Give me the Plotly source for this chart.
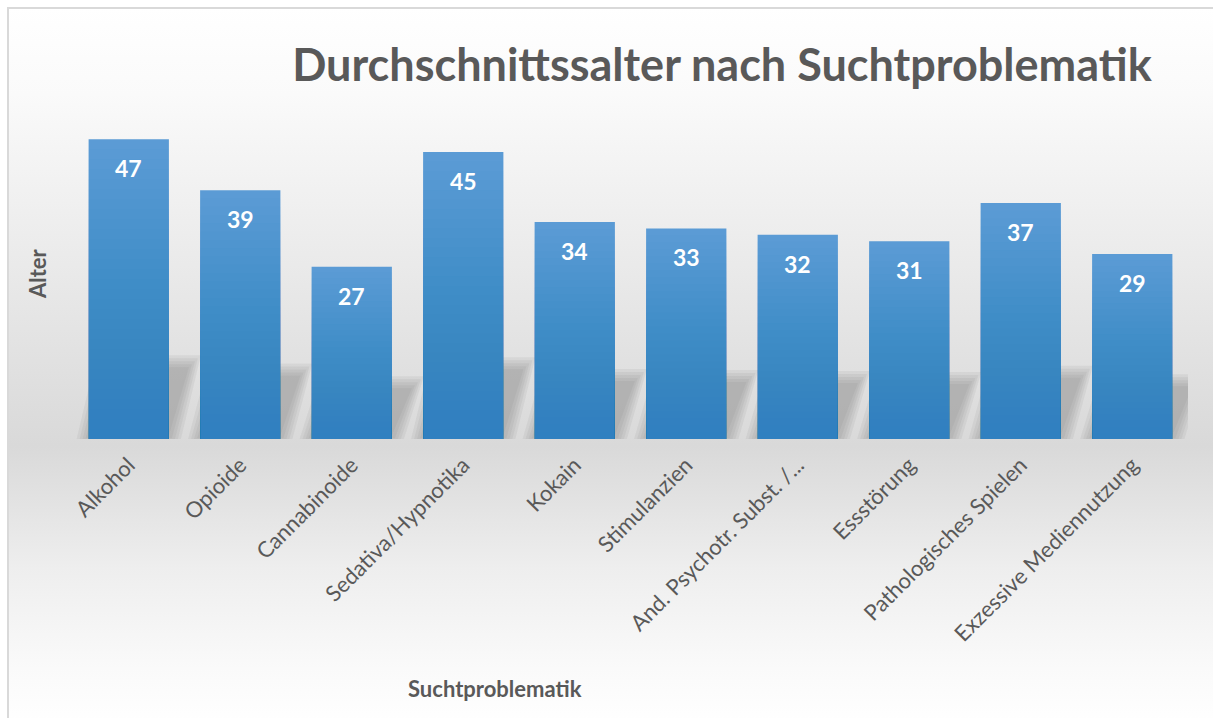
import base64
import plotly.graph_objects as go

# ---------------- data ----------------
categories = ["Alkohol", "Opioide", "Cannabinoide", "Sedativa/Hypnotika", "Kokain",
              "Stimulanzien", "And. Psychotr. Subst. /...", "Essstörung",
              "Pathologisches Spielen", "Exzessive Mediennutzung"]
values = [47, 39, 27, 45, 34, 33, 32, 31, 37, 29]
title_text = "Durchschnittssalter nach Suchtproblematik"
x_title = "Suchtproblematik"
y_title = "Alter"

# ---------------- geometry ----------------
W, H = 1213, 718
ML, MR, MT, MB = 73, 25, 120, 279
PW = W - ML - MR
PH = H - MT - MB
YMAX = 50
n = len(categories)
xs = list(range(n))
BARW = 0.72
px_x = PW / n          # pixels per x unit
px_y = PH / YMAX       # pixels per y unit

FONT = "Lato"
GRAY = "#595959"

fig = go.Figure()

# bar body (top colour)
fig.add_trace(go.Bar(x=xs, y=values, width=BARW, marker=dict(color="#5b9bd5", line=dict(width=0)),
                     hovertemplate="%{customdata}: %{y}<extra></extra>", customdata=categories))
# gradient overlay layers, darker toward the base
N = 30
for k in range(1, N):
    fig.add_trace(go.Bar(x=xs, y=[v * k / N for v in values], width=BARW,
                         marker=dict(color="rgba(35,118,200,0.032)", line=dict(width=0)),
                         hoverinfo="skip", showlegend=False))

# ---------------- shadows (perspective, blurred) ----------------
shapes = []
sx = 20 / px_x
for i, v in zip(xs, values):
    h = 3.5 + 0.165 * v
    b = 0.6
    L = i - BARW / 2
    R = i + BARW / 2
    for e_px in (12, 9, 6, 3, 0):
        ex = e_px / px_x
        ey = e_px / px_y
        pts = [(L - ex, max(b - ey, 0.0)), (R + ex, max(b - ey, 0.0)),
               (R + sx + ex, h + ey), (L + sx - ex, h + ey)]
        path = "M " + " L ".join(f"{px},{py}" for px, py in pts) + " Z"
        shapes.append(dict(type="path", path=path, xref="x", yref="y", layer="below",
                           fillcolor="rgba(110,110,110,0.09)", line=dict(width=0)))

# ---------------- background gradient & frame ----------------
svg = f'''<svg xmlns="http://www.w3.org/2000/svg" width="{W}" height="{H}" viewBox="0 0 {W} {H}">
<defs><linearGradient id="g" x1="0" y1="0" x2="0" y2="1">
<stop offset="0" stop-color="#ffffff"/>
<stop offset="0.12" stop-color="#fafafa"/>
<stop offset="0.61" stop-color="#d9d9d9"/>
<stop offset="0.78" stop-color="#eeeeee"/>
<stop offset="0.92" stop-color="#fafafa"/>
<stop offset="1" stop-color="#ffffff"/>
</linearGradient></defs>
<rect x="0" y="0" width="{W}" height="{H}" fill="#ffffff"/>
<rect x="8" y="8" width="{W}" height="{H}" fill="url(#g)" stroke="#d9d9d9" stroke-width="2"/>
</svg>'''
src = "data:image/svg+xml;base64," + base64.b64encode(svg.encode()).decode()

images = [dict(source=src, xref="paper", yref="paper",
               x=-ML / PW, y=1 + MT / PH, sizex=W / PW, sizey=H / PH,
               xanchor="left", yanchor="top", sizing="stretch", layer="below")]

# ---------------- annotations ----------------
annotations = []
for i, v in zip(xs, values):
    annotations.append(dict(x=i, y=v, xref="x", yref="y", text=f"<b>{v}</b>", showarrow=False,
                            yanchor="middle", yshift=-29,
                            font=dict(family=FONT, size=23, color="white")))
annotations.append(dict(x=(495 - ML) / PW, y=-(688 - MT - PH) / PH, xref="paper", yref="paper",
                        text=f"<b>{x_title}</b>", showarrow=False, xanchor="center", yanchor="middle",
                        font=dict(family=FONT, size=22, color=GRAY)))
annotations.append(dict(x=-(ML - 37) / PW, y=1 - (274 - MT) / PH, xref="paper", yref="paper",
                        text=f"<b>{y_title}</b>", showarrow=False, textangle=-90,
                        xanchor="center", yanchor="middle",
                        font=dict(family=FONT, size=22, color=GRAY)))

fig.update_layout(
    width=W, height=H,
    margin=dict(l=ML, r=MR, t=MT, b=MB, autoexpand=False),
    paper_bgcolor="white", plot_bgcolor="rgba(0,0,0,0)",
    barmode="overlay", showlegend=False,
    title=dict(text=f"<b>{title_text}</b>", x=(722 - ML) / PW, xref="paper", xanchor="center",
               y=1 - 65 / H, yref="container", yanchor="middle",
               font=dict(family=FONT, size=45, color=GRAY)),
    xaxis=dict(range=[-0.5, n - 0.5], tickmode="array", tickvals=xs, ticktext=categories,
               tickangle=-45, showgrid=False, zeroline=False, showline=False, ticks="",
               ticklabelstandoff=8,
               tickfont=dict(family=FONT, size=22, color=GRAY), fixedrange=True),
    yaxis=dict(range=[0, YMAX], showticklabels=False, showgrid=False, zeroline=False,
               showline=False, ticks="", fixedrange=True),
    shapes=shapes, images=images, annotations=annotations,
)

fig.write_html("out.html", config={"displayModeBar": False},
               post_script="document.body.style.margin='0';")
